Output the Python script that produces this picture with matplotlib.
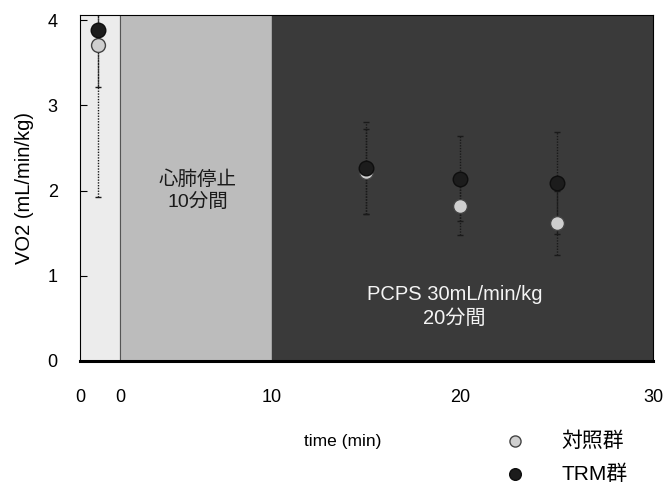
import numpy as np
import matplotlib
matplotlib.use("Agg")
import matplotlib.pyplot as plt

plt.rcParams['font.family'] = ['Liberation Sans', 'Noto Sans CJK JP', 'DejaVu Sans']

# data (baseline point sits left of the arrest phase)
time_ctrl = [-1.1, 15, 20, 25]
vo2_ctrl = [3.71, 2.22, 1.82, 1.62]
err_ctrl = [1.79, 0.50, 0.34, 0.38]

time_trm = [-1.1, 15, 20, 25]
vo2_trm = [3.88, 2.26, 2.14, 2.09]
err_trm = [0.67, 0.54, 0.50, 0.60]

phase_edges = [-2, 0, 10, 30]
phase_colors = ['#ececec', '#bcbcbc', '#3a3a3a']

tick_pos = [-2, 0, 10, 20, 30]
tick_labels = ['0', '0', '10', '20', '30']

# uneven spacing of the original time axis
xk = [-2, 0, 10, 20, 30]
pk = [0, 40, 192, 380, 573]


def fwd(x):
    return np.interp(x, xk, pk)


def inv(p):
    return np.interp(p, pk, xk)


fig = plt.figure(figsize=(6.66, 4.9), dpi=100)
ax = fig.add_axes([0.1201, 0.2633, 0.8604, 0.7061])
ax.set_xscale('function', functions=(fwd, inv))

for i in range(len(phase_colors)):
    ax.axvspan(phase_edges[i], phase_edges[i + 1], color=phase_colors[i], zorder=0)
ax.axvline(0, color='#555555', lw=0.8, zorder=1)

for t, v, e in [(time_ctrl, vo2_ctrl, err_ctrl), (time_trm, vo2_trm, err_trm)]:
    eb = ax.errorbar(t, v, yerr=e, fmt='none', ecolor='#1a1a1a',
                     elinewidth=1.0, capsize=2.5, capthick=1.0, zorder=2)
    eb[2][0].set_linestyle((0, (1, 1)))

ax.scatter(time_ctrl, vo2_ctrl, s=100, c='#cfcfcf', edgecolors='#444444',
           linewidths=1.0, zorder=3, label='対照群')
ax.scatter(time_trm, vo2_trm, s=110, c='#1c1c1c', edgecolors='#0e0e0e',
           linewidths=1.0, zorder=4, label='TRM群')

ax.text(5.1, 2.0, '心肺停止\n10分間', ha='center', va='center', fontsize=14,
        color='#1a1a1a', linespacing=1.3)
ax.text(19.7, 0.64, 'PCPS 30mL/min/kg\n20分間', ha='center', va='center',
        fontsize=14.5, color='#f4f4f4', linespacing=1.35)

ax.set_xlim(-2, 30)
ax.set_ylim(0, 4.06)
ax.set_xticks(tick_pos)
ax.set_xticklabels(tick_labels)
ax.set_yticks([0, 1, 2, 3, 4])
ax.tick_params(axis='x', length=0, pad=20, labelsize=13)
ax.tick_params(axis='y', direction='in', length=5, pad=16, labelsize=13)

for s in ['top', 'right', 'left']:
    ax.spines[s].set_linewidth(0.8)
ax.spines['bottom'].set_linewidth(2.2)

ax.set_ylabel('VO2 (mL/min/kg)', fontsize=14.5, labelpad=10)
fig.text(0.515, 0.098, 'time (min)', ha='center', va='center', fontsize=12.5)

fig.legend(loc='lower right', bbox_to_anchor=(0.97, -0.025), frameon=False,
           fontsize=15, handletextpad=1.2, labelspacing=0.65,
           markerscale=0.8)

fig.savefig('out.png', dpi=100)
